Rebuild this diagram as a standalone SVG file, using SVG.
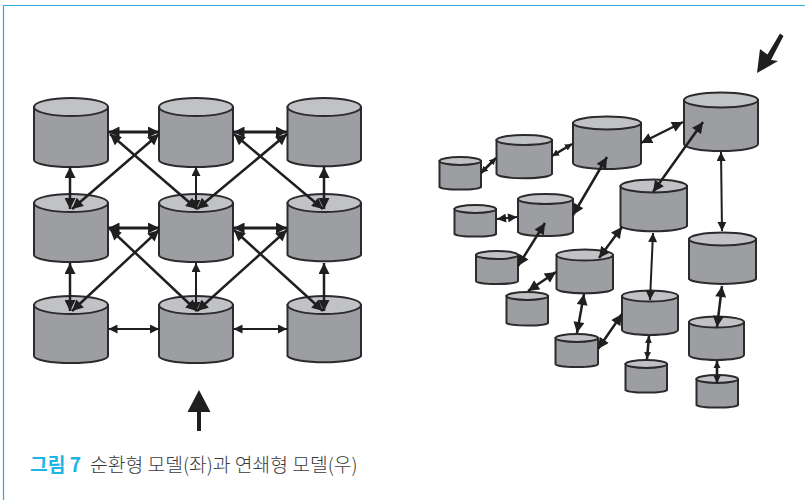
<svg xmlns="http://www.w3.org/2000/svg" width="805" height="500" viewBox="0 0 805 500">
<defs>
<style>
.b{fill:#9d9ea1;stroke:#2b2b2d;stroke-width:2}
.t{fill:#c1c2c5;stroke:#2b2b2d;stroke-width:2}
.c{fill:none;stroke:#1f1f20;stroke-width:2.5;marker-start:url(#a);marker-end:url(#a)}
.h{stroke-width:3}
.n{stroke-width:2;marker-start:url(#s);marker-end:url(#s)}
.m{stroke-width:2.6;marker-start:url(#u);marker-end:url(#u)}
.cap{font-family:"Noto Sans CJK KR","Noto Sans",sans-serif;font-size:19.300px}
</style>
<marker id="a" viewBox="0 0 10 10" refX="10" refY="5" markerUnits="userSpaceOnUse" markerWidth="12" markerHeight="11" orient="auto-start-reverse"><path d="M0,0L10,5L0,10z" fill="#1f1f20"/></marker>
<marker id="s" viewBox="0 0 10 10" refX="10" refY="5" markerUnits="userSpaceOnUse" markerWidth="10" markerHeight="9" orient="auto-start-reverse"><path d="M0,0L10,5L0,10z" fill="#1f1f20"/></marker>
<marker id="u" viewBox="0 0 10 10" refX="10" refY="5" markerUnits="userSpaceOnUse" markerWidth="7" markerHeight="8" orient="auto-start-reverse"><path d="M0,0L10,5L0,10z" fill="#1f1f20"/></marker>
</defs>
<rect width="805" height="500" fill="#fff"/>
<path d="M805,5.500H3.500V500" fill="none" stroke="#2fa9d6" stroke-width="1.200"/>
<g id="n1"><path class="b" d="M34,107V160A37,7 0 0 0 108,160V107z"/><ellipse class="t" cx="71" cy="107" rx="37" ry="9"/></g>
<g id="n2"><path class="b" d="M159,107V160A37,7 0 0 0 233,160V107z"/><ellipse class="t" cx="196" cy="107" rx="37" ry="9"/></g>
<g id="n3"><path class="b" d="M287.500,107V160A37,7 0 0 0 361,160V107z"/><ellipse class="t" cx="324.250" cy="107" rx="36.750" ry="9"/></g>
<g id="n4"><path class="b" d="M34,203V255A37,7 0 0 0 108,255V203z"/><ellipse class="t" cx="71" cy="203" rx="37" ry="9"/></g>
<g id="n5"><path class="b" d="M159,203V255A37,7 0 0 0 233,255V203z"/><ellipse class="t" cx="196" cy="203" rx="37" ry="9"/></g>
<g id="n6"><path class="b" d="M287.500,203V255A37,7 0 0 0 361,255V203z"/><ellipse class="t" cx="324.250" cy="203" rx="36.750" ry="9"/></g>
<g id="n7"><path class="b" d="M34,305V356A37,7 0 0 0 108,356V305z"/><ellipse class="t" cx="71" cy="305" rx="37" ry="9"/></g>
<g id="n8"><path class="b" d="M159,305V356A37,7 0 0 0 233,356V305z"/><ellipse class="t" cx="196" cy="305" rx="37" ry="9"/></g>
<g id="n9"><path class="b" d="M287.500,305V356A37,7 0 0 0 361,356V305z"/><ellipse class="t" cx="324.250" cy="305" rx="36.750" ry="9"/></g>

<g id="r1"><path class="b" d="M684,100V144A37,7 0 0 0 758,144V100z"/><ellipse class="t" cx="721" cy="100" rx="37" ry="7.500"/></g>
<g id="r2"><path class="b" d="M573,123V163A34,6 0 0 0 641,163V123z"/><ellipse class="t" cx="607" cy="123" rx="34" ry="6.500"/></g>
<g id="r3"><path class="b" d="M496.500,140V174A28,5 0 0 0 552,174V140z"/><ellipse class="t" cx="524.250" cy="140" rx="27.750" ry="5"/></g>
<g id="r4"><path class="b" d="M439.500,161V187A21,3 0 0 0 481,187V161z"/><ellipse class="t" cx="460.250" cy="161" rx="20.750" ry="4"/></g>
<g id="r5"><path class="b" d="M620.500,186V226A33.500,6 0 0 0 687,226V186z"/><ellipse class="t" cx="653.750" cy="186" rx="33.250" ry="6.500"/></g>
<g id="r6"><path class="b" d="M518,199V232A28,5 0 0 0 573,232V199z"/><ellipse class="t" cx="545.500" cy="199" rx="27.500" ry="5"/></g>
<g id="r7"><path class="b" d="M454.500,209V234A21,3 0 0 0 496,234V209z"/><ellipse class="t" cx="475.250" cy="209" rx="20.750" ry="4"/></g>
<g id="r8"><path class="b" d="M689,239V279A34,6 0 0 0 756,279V239z"/><ellipse class="t" cx="722.500" cy="239" rx="33.500" ry="6.500"/></g>
<g id="r9"><path class="b" d="M556.500,255V289A28.500,5 0 0 0 613,289V255z"/><ellipse class="t" cx="584.750" cy="255" rx="28.250" ry="5.500"/></g>
<g id="r10"><path class="b" d="M476,255V281A21,3 0 0 0 518,281V255z"/><ellipse class="t" cx="497" cy="255" rx="21" ry="4"/></g>
<g id="r11"><path class="b" d="M506.500,296V323A21,3 0 0 0 548,323V296z"/><ellipse class="t" cx="527.250" cy="296" rx="20.750" ry="4"/></g>
<g id="r12"><path class="b" d="M622,296V330A28,5 0 0 0 678,330V296z"/><ellipse class="t" cx="650" cy="296" rx="28" ry="5.500"/></g>
<g id="r13"><path class="b" d="M689,322V355A27.500,5 0 0 0 744,355V322z"/><ellipse class="t" cx="716.500" cy="322" rx="27.500" ry="5.500"/></g>
<g id="r14"><path class="b" d="M555.500,338V364A21,3 0 0 0 598,364V338z"/><ellipse class="t" cx="576.750" cy="338" rx="21.250" ry="4"/></g>
<g id="r15"><path class="b" d="M625.500,364V390A21,3 0 0 0 667,390V364z"/><ellipse class="t" cx="646.250" cy="364" rx="20.750" ry="4"/></g>
<g id="r16"><path class="b" d="M696.500,379V405A21,3 0 0 0 738,405V379z"/><ellipse class="t" cx="717.250" cy="379" rx="20.750" ry="4"/></g>

<g id="connectors">
<path class="c h" d="M108.500,132H159"/>
<path class="c h" d="M233.500,132H287"/>
<path class="c h" d="M108.500,228H159"/>
<path class="c h" d="M233.500,228H287"/>
<path class="c n" d="M108.500,329H159"/>
<path class="c n" d="M233.500,329H287"/>
<path class="c" d="M70,167V209"/>
<path class="c n" d="M196,167V209"/>
<path class="c" d="M324,167V209"/>
<path class="c" d="M70,263V311"/>
<path class="c n" d="M196,263V311"/>
<path class="c" d="M324,263V311"/>
<path class="c" d="M110,134L197,209"/>
<path class="c" d="M159,134L72,209"/>
<path class="c" d="M234,134L323,209"/>
<path class="c" d="M287,134L197,209"/>
<path class="c" d="M110,229L197,311"/>
<path class="c" d="M159,230L72,311"/>
<path class="c" d="M234,230L323,311"/>
<path class="c" d="M287,230L197,311"/>
<path class="c" d="M683,122L641,143"/>
<path class="c m" d="M572,144L552,156"/>
<path class="c m" d="M496,158L481,173"/>
<path class="c" d="M703,122L653,192"/>
<path class="c n" d="M721,152L722,231"/>
<path class="c" d="M607,157L573,215"/>
<path class="c n" d="M517,217L497,219"/>
<path class="c" d="M545,223L518,266"/>
<path class="c" d="M622,227L599,258"/>
<path class="c n" d="M653,233L650,300"/>
<path class="c" d="M556,272L528,291"/>
<path class="c" d="M584,294L577,333"/>
<path class="c" d="M622,314L598,349"/>
<path class="c m" d="M649,336L647,359"/>
<path class="c" d="M722,286L717,327"/>
<path class="c m" d="M717,361V383"/>
</g>
<g id="big-arrows">
<path d="M199,390L210.500,412H201V431H197V412H187.500z" fill="#1f1f20"/>
<path d="M757,73L760,49L767.500,54.500L780,33.500L783.500,36L771,60L778,61z" fill="#1f1f20"/>
</g>
<text class="cap" x="30" y="472" font-weight="700" fill="#1fb4e6">그림 7</text>
<text class="cap" x="90" y="472" fill="#3a3a3c" font-weight="300">순환형 모델(좌)과 연쇄형 모델(우)</text>
</svg>
